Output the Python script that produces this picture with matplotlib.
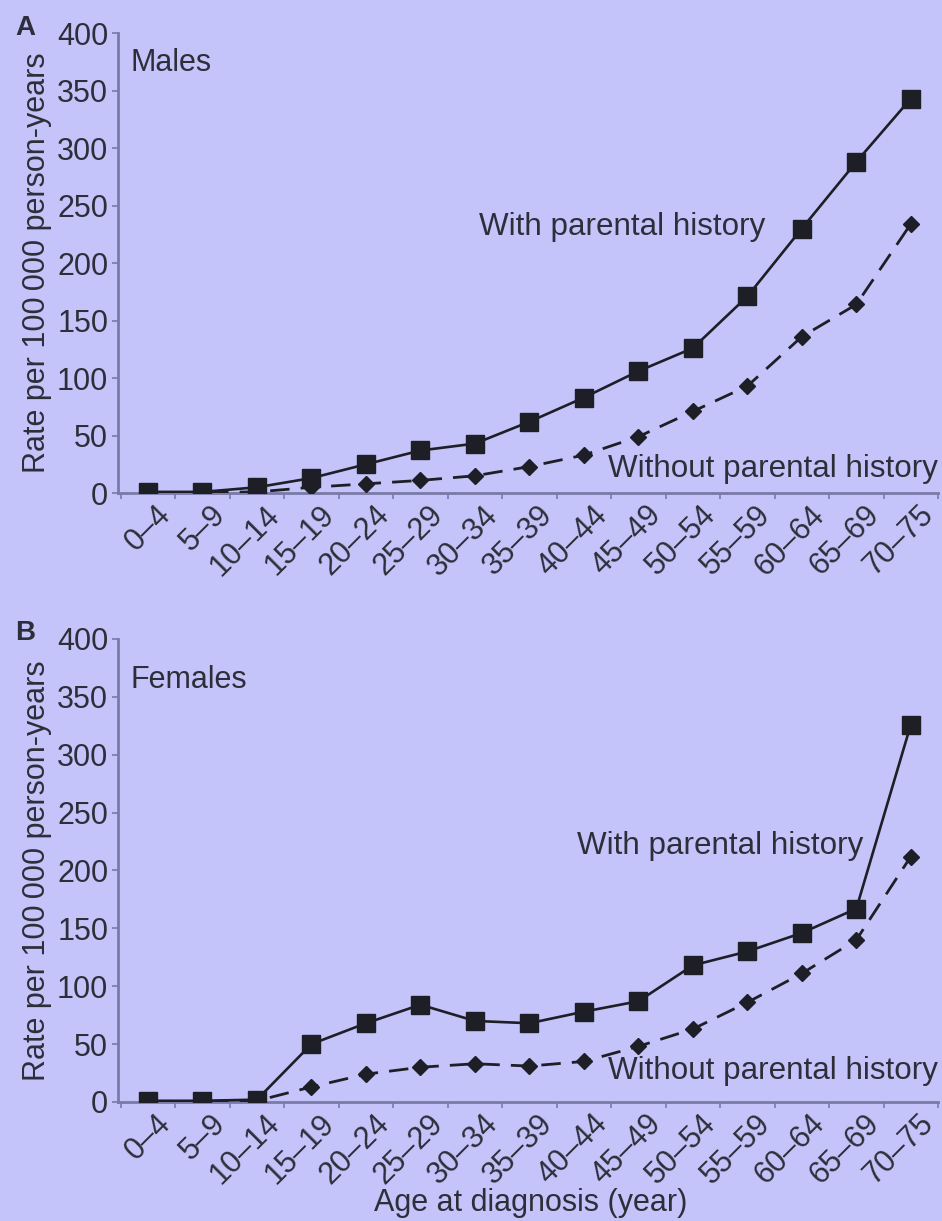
import matplotlib
matplotlib.use("Agg")
import matplotlib.pyplot as plt
import matplotlib.transforms as mtransforms
from matplotlib.ticker import FixedLocator, NullFormatter

plt.rcParams['font.family'] = ['Liberation Sans', 'DejaVu Sans']

categories = ["0\u20134", "5\u20139", "10\u201314", "15\u201319", "20\u201324", "25\u201329",
              "30\u201334", "35\u201339", "40\u201344", "45\u201349", "50\u201354", "55\u201359",
              "60\u201364", "65\u201369", "70\u201375"]
y_ticks = [0, 50, 100, 150, 200, 250, 300, 350, 400]

males_with = [1, 1, 5, 13, 25, 37, 43, 62, 83, 106, 126, 171, 230, 288, 343]
males_without = [0.5, 0.5, 1, 5, 8, 11, 15, 23, 33, 49, 71, 93, 136, 164, 234]
females_with = [1, 1, 2, 50, 68, 84, 70, 68, 78, 87, 118, 130, 146, 167, 326]
females_without = [0.5, 0.5, 1, 13, 24, 30, 33, 31, 35, 48, 63, 86, 111, 140, 212]

BG = "#C4C4FA"
AX = "#7A7AA8"
TXT = "#2E2E3A"
LINE = "#1E1E26"
FS = 22
FSA = 22.6

fig = plt.figure(figsize=(9.42, 12.21), dpi=100)
fig.patch.set_facecolor(BG)

panels = [
    dict(rect=[0.1253, 0.5962, 0.8705, 0.3767], w=males_with, wo=males_without,
         name="Males", name_y=0.935, letter="A", with_pos=(6.08, 231), wo_pos=(8.45, 21)),
    dict(rect=[0.1253, 0.0975, 0.8705, 0.3792], w=females_with, wo=females_without,
         name="Females", name_y=0.911, letter="B", with_pos=(7.87, 221), wo_pos=(8.45, 27)),
]

x = list(range(len(categories)))
for p in panels:
    ax = fig.add_axes(p["rect"])
    ax.set_facecolor(BG)
    ax.plot(x, p["wo"], color=LINE, lw=2.0, dashes=(7, 4), marker="D",
            markersize=8.5, markerfacecolor=LINE, markeredgecolor=LINE, zorder=3)
    ax.plot(x, p["w"], color=LINE, lw=1.9, marker="s", markersize=13,
            markerfacecolor=LINE, markeredgecolor=LINE, zorder=4)
    ax.set_xlim(-0.55, 14.5)
    ax.set_ylim(0, 400)
    for s in ["top", "right"]:
        ax.spines[s].set_visible(False)
    for s in ["left", "bottom"]:
        ax.spines[s].set_color(AX)
        ax.spines[s].set_linewidth(2.0)
    ax.set_yticks(y_ticks)
    ax.set_yticklabels([str(v) for v in y_ticks])
    ax.tick_params(axis="y", length=4, width=1.2, color=AX, pad=3,
                   labelsize=FS, labelcolor=TXT)
    ax.set_xticks(x)
    ax.set_xticklabels(categories, rotation=45, ha="right", va="top",
                       rotation_mode="anchor")
    ax.tick_params(axis="x", which="major", length=0, pad=5,
                   labelsize=FS, labelcolor=TXT)
    shift = mtransforms.ScaledTranslation(8 / 100, 0, fig.dpi_scale_trans)
    for lab in ax.get_xticklabels():
        lab.set_transform(lab.get_transform() + shift)
    ax.xaxis.set_minor_locator(FixedLocator([i + 0.5 for i in range(-1, 15)]))
    ax.xaxis.set_minor_formatter(NullFormatter())
    ax.tick_params(axis="x", which="minor", length=4, width=1.2, color=AX)
    ax.set_ylabel("Rate per 100\u2009000 person-years", fontsize=FS, color=TXT,
                  labelpad=4)
    ax.text(0.015, p["name_y"], p["name"], transform=ax.transAxes, fontsize=FS,
            color=TXT, ha="left", va="center")
    ax.text(p["with_pos"][0], p["with_pos"][1], "With parental history",
            fontsize=FSA, color=TXT, ha="left", va="center")
    ax.text(p["wo_pos"][0], p["wo_pos"][1], "Without parental history",
            fontsize=FSA, color=TXT, ha="left", va="center")
    ax.text(-0.125, 1.012, p["letter"], transform=ax.transAxes, fontsize=FS - 2,
            fontweight="bold", color=TXT, ha="left", va="center")

fig.text(0.563, 0.015, "Age at diagnosis (year)", fontsize=FS, color=TXT,
         ha="center", va="center")

fig.savefig("out.png", dpi=100, facecolor=BG)
